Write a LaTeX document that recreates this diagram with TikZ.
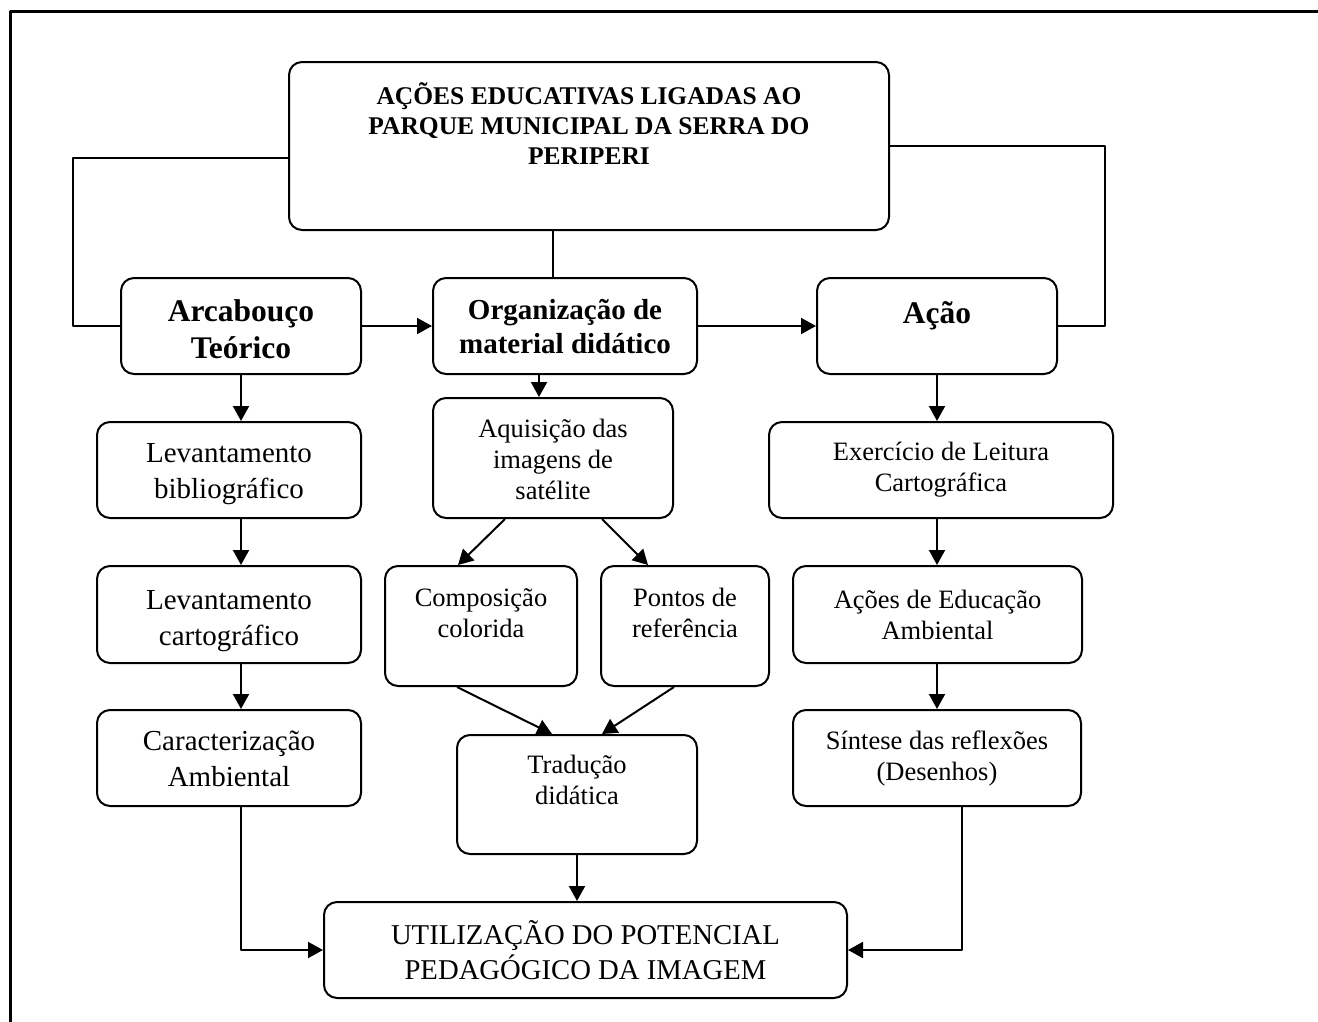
\documentclass[tikz,border=0pt]{standalone}
\usepackage{fontspec}
\setmainfont{Liberation Serif}
\usetikzlibrary{arrows.meta,positioning}

\newcommand{\fleft}{\fontsize{29}{36}\selectfont}
\newcommand{\fmid}{\fontsize{26.5}{31}\selectfont}
\newcommand{\fhead}{\fontsize{31.5}{37}\selectfont\bfseries}
\newcommand{\forg}{\fontsize{29}{34}\selectfont\bfseries}
\newcommand{\ftitle}{\fontsize{25.5}{30}\selectfont\bfseries}
\newcommand{\futil}{\fontsize{28.7}{35}\selectfont}

\begin{document}
\begin{tikzpicture}[x=1pt,y=-1pt,>={Triangle[length=15pt,width=16pt]},line join=round,
    blk/.style={draw,line width=2pt,rounded corners=13pt,align=center,inner sep=0pt},
    ln/.style={line width=2pt},
    arr/.style={ln,->},
    hd/.style={anchor=north,inner sep=0pt,align=center}]
    \useasboundingbox (0,0) rectangle (1318,1021);
    \clip (0,0) rectangle (1318,1021);
    \draw[line width=3pt] (10,1040) -- (10,11) -- (1340,11);

    \node[blk,minimum width=600pt,minimum height=168pt,
      label={[hd,font=\ftitle,yshift=-21pt]north:AÇÕES EDUCATIVAS LIGADAS AO\\PARQUE MUNICIPAL DA SERRA DO\\PERIPERI}] (top) at (589,146) {};

    \node[blk,minimum width=240pt,minimum height=96pt,
      label={[hd,font=\fhead,yshift=-22pt]north:Arcabouço\\Teórico}] (arc) at (241,326) {};
    \node[blk,minimum width=264pt,minimum height=96pt,
      label={[hd,font=\forg,yshift=-22pt]north:Organização de\\material didático}] (org) at (565,326) {};
    \node[blk,minimum width=240pt,minimum height=96pt,
      label={[hd,font=\fhead,yshift=-24pt]north:Ação}] (acao) at (937,326) {};

    \node[blk,minimum width=264pt,minimum height=96pt,
      label={[hd,font=\fleft,yshift=-22pt]north:Levantamento\\bibliográfico}] (levbib) at (229,470) {};
    \node[blk,minimum width=264pt,minimum height=97pt,
      label={[hd,font=\fleft,yshift=-25pt]north:Levantamento\\cartográfico}] (levcart) at (229,614.5) {};
    \node[blk,minimum width=264pt,minimum height=96pt,
      label={[hd,font=\fleft,yshift=-22pt]north:Caracterização\\Ambiental}] (carac) at (229,758) {};

    \node[blk,minimum width=240pt,minimum height=120pt,
      label={[hd,font=\fmid,yshift=-22pt]north:Aquisição das\\imagens de\\satélite}] (aquis) at (553,458) {};
    \node[blk,minimum width=192pt,minimum height=120pt,
      label={[hd,font=\fmid,yshift=-23pt]north:Composição\\colorida}] (comp) at (481,626) {};
    \node[blk,minimum width=168pt,minimum height=120pt,
      label={[hd,font=\fmid,yshift=-23pt]north:Pontos de\\referência}] (pont) at (685,626) {};
    \node[blk,minimum width=240pt,minimum height=119pt,
      label={[hd,font=\fmid,yshift=-21pt]north:Tradução\\didática}] (trad) at (577,794.5) {};

    \node[blk,minimum width=344pt,minimum height=96pt,font=\fmid] (exer) at (941,470) {Exercício de Leitura\\Cartográfica};
    \node[blk,minimum width=289pt,minimum height=97pt,font=\fmid] (edam) at (937.5,614.5) {Ações de Educação\\Ambiental};
    \node[blk,minimum width=288pt,minimum height=96pt,font=\fmid] (sint) at (937,758) {Síntese das reflexões\\(Desenhos)};

    \node[blk,minimum width=523pt,minimum height=96pt,font=\futil] (util) at (585.5,950) {UTILIZAÇÃO DO POTENCIAL\\PEDAGÓGICO DA IMAGEM};

    \draw[ln] (top.west |- 0,158) -- (73,158) |- (arc.west);
    \draw[ln] (top.east |- 0,146) -- (1105,146) |- (acao.east);
    \draw[ln] (top.south -| 553,0) -- (org.north -| 553,0);
    \draw[arr] (arc) -- (org);
    \draw[arr] (org) -- (acao);

    \draw[arr] (arc.south) -- (arc.south |- levbib.north);
    \draw[arr] (levbib.south -| arc.south) -- (levcart.north -| arc.south);
    \draw[arr] (levcart.south -| arc.south) -- (carac.north -| arc.south);
    \draw[arr] (carac.south -| arc.south) |- (util.west);

    \draw[arr] (org.south -| 539,0) -- (aquis.north -| 539,0);
    \draw[arr] ([xshift=-48pt]aquis.south) -- ([xshift=-23pt]comp.north);
    \draw[arr] ([xshift=49pt]aquis.south) -- ([xshift=-37pt]pont.north);
    \draw[arr] ([xshift=-24pt]comp.south) -- ([xshift=-25pt]trad.north);
    \draw[arr] ([xshift=-11pt]pont.south) -- ([xshift=25pt]trad.north);
    \draw[arr] (trad.south) -- (trad.south |- util.north);

    \draw[arr] (acao.south) -- (acao.south |- exer.north);
    \draw[arr] (exer.south -| acao.south) -- (edam.north -| acao.south);
    \draw[arr] (edam.south -| acao.south) -- (sint.north -| acao.south);
    \draw[arr] (sint.south -| 962,0) |- (util.east);
\end{tikzpicture}
\end{document}
